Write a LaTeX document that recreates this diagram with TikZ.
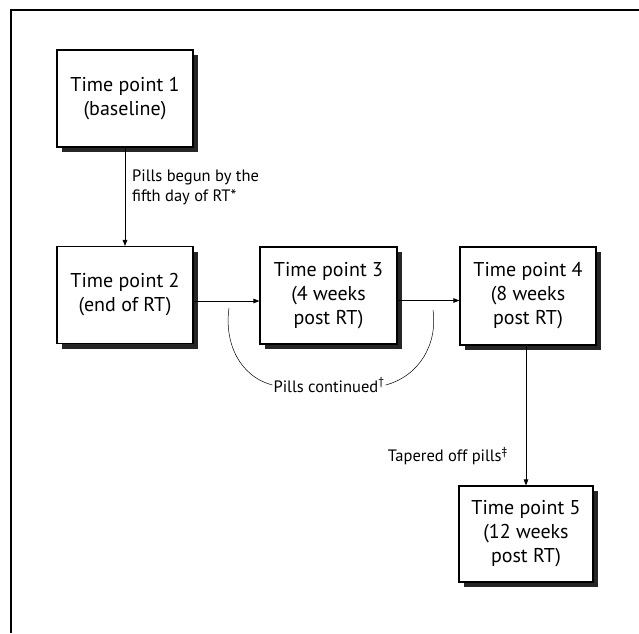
\documentclass[tikz,border=0pt]{standalone}
\usepackage{fontspec}
\setmainfont{PT Sans}
\usetikzlibrary{arrows.meta,shadows,positioning}
\begin{document}
\begin{tikzpicture}[x=1pt,y=-1pt,
  tpbox/.style={draw=black,line width=1.1pt,fill=white,align=center,
    font=\fontsize{20}{24}\selectfont,inner sep=0pt,
    drop shadow={shadow xshift=5pt,shadow yshift=-5pt,fill=black!85,opacity=1}},
  lbl/.style={font=\fontsize{16.5}{20}\selectfont,inner sep=1pt},
  flow/.style={line width=0.9pt,-{Triangle[length=6pt,width=4.5pt]}},
  arcline/.style={line width=0.5pt}]
\useasboundingbox (0,0) rectangle (639,633);
\draw[line width=1.3pt] (11,633) -- (11,10) -- (639,10);

\node[tpbox,minimum width=136pt,minimum height=97pt] (b1) at (125,98.5) {Time point 1\\(baseline)};
\node[tpbox,minimum width=136pt,minimum height=97pt] (b2) at (125,295) {Time point 2\\(end of RT)};
\node[tpbox,minimum width=137pt,minimum height=97pt] (b3) at (328.5,295.5) {Time point 3\\(4 weeks\\post RT)};
\node[tpbox,minimum width=136pt,minimum height=98pt] (b4) at (528,296) {Time point 4\\(8 weeks\\post RT)};
\node[tpbox,minimum width=134pt,minimum height=96pt] (b5) at (526,534) {Time point 5\\(12 weeks\\post RT)};

\draw[flow] (b1) -- (b2);
\draw[flow] ([yshift=-6pt]b2.east) -- ([yshift=-6pt]b2.east -| b3.west);
\draw[flow] ([yshift=-5pt]b3.east) -- ([yshift=-5pt]b3.east -| b4.west);
\draw[flow] (b4.south -| b5.north) -- (b5.north);

\node[lbl,anchor=west,align=left] (l1) at (131,187) {Pills begun by the\\fifth day of RT*};
\node[lbl,anchor=east] (l3) at (509,456) {Tapered off pills\textsuperscript{‡}};
\node[lbl] (pc) at (329,385) {Pills continued\textsuperscript{†}};

\coordinate (a1) at (229,308);
\coordinate (a2) at (433,310);
\draw[arcline] (a1) to[out=262,in=165] (pc.west);
\draw[arcline] (pc.east) to[out=15,in=278] (a2);
\end{tikzpicture}
\end{document}
